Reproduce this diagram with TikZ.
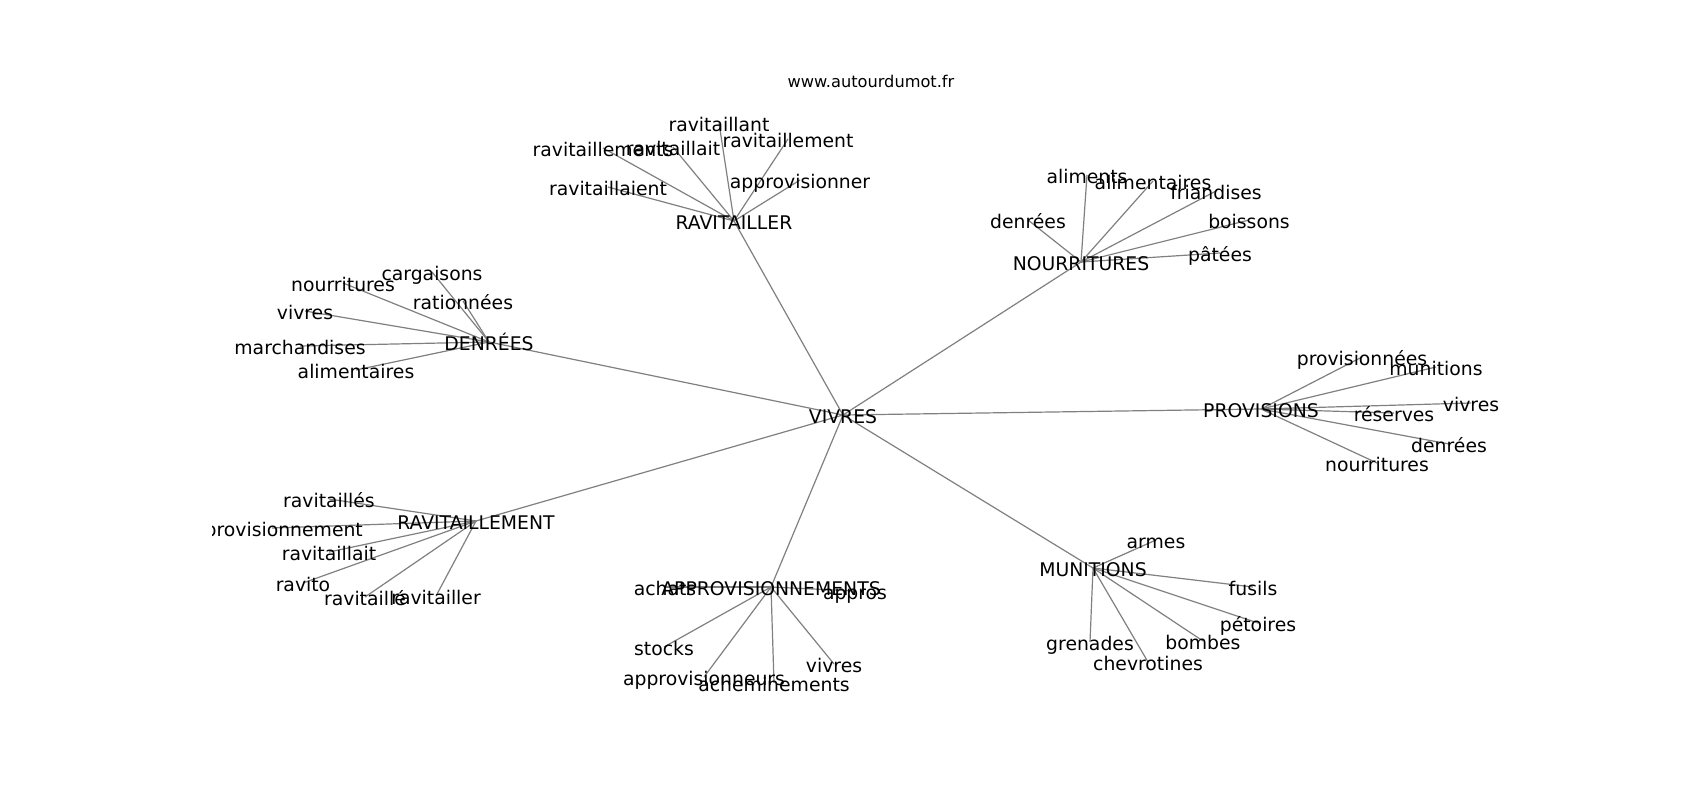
\documentclass[tikz,border=0pt]{standalone}
\usepackage{fontspec}
\setmainfont{DejaVu Sans}
\newcommand\lblfont{\fontsize{18.8}{20}\selectfont}
\newcommand\ttlfont{\fontsize{16.2}{18}\selectfont}
\pgfdeclarelayer{bg}
\pgfsetlayers{bg,main}
\tikzset{
  lbl/.style={font=\lblfont, inner sep=0pt, text height=16.5pt, text depth=0pt, anchor=center},
  ttl/.style={font=\ttlfont, inner sep=0pt, text height=12pt, text depth=2pt, anchor=center},
  edge/.style={draw=black!50, line width=1.2pt}
}
\begin{document}
\begin{tikzpicture}[x=1pt,y=-1pt]
\useasboundingbox (0,0) rectangle (1700,800);
\node[ttl] (title) at (871,83) {www.autourdumot.fr};
\begin{scope}
\clip (212.5,90) rectangle (1530,760);
% hubs
\node[lbl] (v) at (843,415) {VIVRES};
\node[lbl] (rv) at (734,221) {RAVITAILLER};
\node[lbl] (no) at (1081,262) {NOURRITURES};
\node[lbl] (de) at (489,342) {DENRÉES};
\node[lbl] (pr) at (1261,409) {PROVISIONS};
\node[lbl] (rt) at (476,521) {RAVITAILLEMENT};
\node[lbl] (ap) at (771,587) {APPROVISIONNEMENTS};
\node[lbl] (mu) at (1093,568) {MUNITIONS};
% RAVITAILLER
\node[lbl] (rv1) at (719,123) {ravitaillant};
\node[lbl] (rv2) at (603,148) {ravitaillements};
\node[lbl] (rv3) at (673,147) {ravitaillait};
\node[lbl] (rv4) at (788,139) {ravitaillement};
\node[lbl] (rv5) at (800,180) {approvisionner};
\node[lbl] (rv6) at (608,187) {ravitaillaient};
% NOURRITURES
\node[lbl] (no1) at (1087,175) {aliments};
\node[lbl] (no2) at (1153,181) {alimentaires};
\node[lbl] (no3) at (1216,191) {friandises};
\node[lbl] (no4) at (1028,220) {denrées};
\node[lbl] (no5) at (1249,220) {boissons};
\node[lbl] (no6) at (1220,253) {pâtées};
% DENREES
\node[lbl] (de1) at (432,272) {cargaisons};
\node[lbl] (de2) at (343,283) {nourritures};
\node[lbl] (de3) at (463,301) {rationnées};
\node[lbl] (de4) at (305,311) {vivres};
\node[lbl] (de5) at (300,346) {marchandises};
\node[lbl] (de6) at (356,370) {alimentaires};
% PROVISIONS
\node[lbl] (pr1) at (1362,357) {provisionnées};
\node[lbl] (pr2) at (1436,367) {munitions};
\node[lbl] (pr3) at (1471,403) {vivres};
\node[lbl] (pr4) at (1394,413) {réserves};
\node[lbl] (pr5) at (1449,444) {denrées};
\node[lbl] (pr6) at (1377,463) {nourritures};
% RAVITAILLEMENT
\node[lbl] (rt1) at (329,499) {ravitaillés};
\node[lbl] (rt2) at (272,528) {approvisionnement};
\node[lbl] (rt3) at (329,552) {ravitaillait};
\node[lbl] (rt4) at (303,583) {ravito};
\node[lbl] (rt5) at (365,597) {ravitaillé};
\node[lbl] (rt6) at (436,596) {ravitailler};
% APPROVISIONNEMENTS
\node[lbl] (ap1) at (665,587) {achats};
\node[lbl] (ap2) at (855,591) {appros};
\node[lbl] (ap3) at (664,647) {stocks};
\node[lbl] (ap4) at (704,677) {approvisionneurs};
\node[lbl] (ap5) at (774,683) {acheminements};
\node[lbl] (ap6) at (834,664) {vivres};
% MUNITIONS
\node[lbl] (mu1) at (1156,540) {armes};
\node[lbl] (mu2) at (1253,587) {fusils};
\node[lbl] (mu3) at (1258,623) {pétoires};
\node[lbl] (mu4) at (1090,642) {grenades};
\node[lbl] (mu5) at (1203,641) {bombes};
\node[lbl] (mu6) at (1148,662) {chevrotines};
\end{scope}
\begin{pgfonlayer}{bg}
\fill[white] (0,0) rectangle (1700,800);
\foreach \h in {rv,no,de,pr,rt,ap,mu}{
  \draw[edge] (v.center) -- (\h.center);
  \foreach \i in {1,...,6}{
    \draw[edge] (\h.center) -- (\h\i.center);
  }
}
\end{pgfonlayer}
\end{tikzpicture}
\end{document}
